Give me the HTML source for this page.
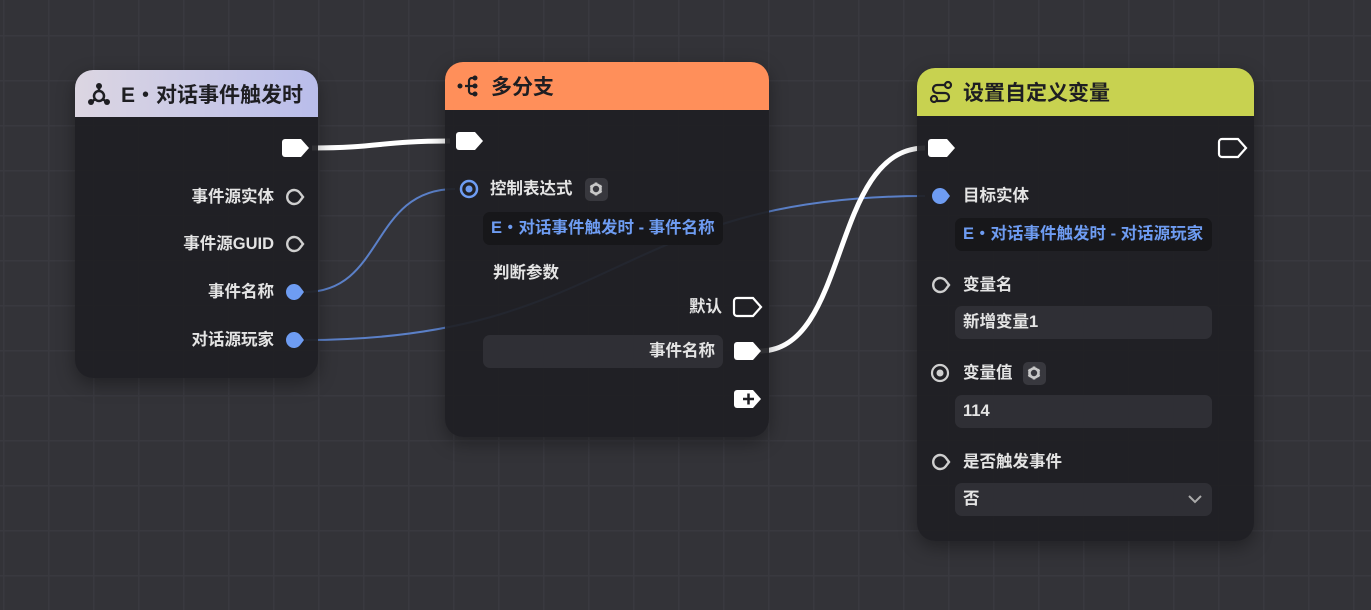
<!DOCTYPE html>
<html><head><meta charset="utf-8"><style>
*{box-sizing:border-box;margin:0;padding:0}
body{width:1371px;height:610px;overflow:hidden;position:relative;font-family:"Liberation Sans","Noto Sans CJK SC",sans-serif;
background-color:#333338;
background-image:linear-gradient(#39393f 1.5px,transparent 1.5px),linear-gradient(90deg,#39393f 1.5px,transparent 1.5px);
background-size:45px 45px;background-position:3px 35px}
.node{position:absolute;background:rgba(31,31,35,0.93);border-radius:18px;box-shadow:0 6px 18px rgba(0,0,0,0.35);overflow:hidden}
.hdr{position:absolute;left:0;top:0;right:0;display:flex;align-items:center;font-size:21px;font-weight:bold;color:#1e1e22}
.t{position:absolute;font-size:16.5px;font-weight:bold;color:#e4e4e4;white-space:nowrap;line-height:20px}
.box{position:absolute;border-radius:7px;font-size:16.5px;font-weight:bold;line-height:20px;padding:6px 8px;white-space:nowrap}
.blue{background:#17171a;color:#6e9cf2}
.inp{background:#2f2f35;color:#e4e4e4}
.gear{position:absolute;width:23px;height:23px;border-radius:5px;background:#38383e}
svg.p{position:absolute;overflow:visible}
</style></head><body>
<svg width="1371" height="610" style="position:absolute;left:0;top:0">
<path d="M312,148 C380,148 380,141 450,141" stroke="#fff" stroke-width="5" fill="none"/>
<path d="M305,292 C385,292 370,189 455,189" stroke="#5b80c8" stroke-width="2" fill="none"/>
<path d="M305,340 C615,340 615,196 925,196" stroke="#5b80c8" stroke-width="2" fill="none"/>
<path d="M760,351 C850,351 830,148 925,148" stroke="#fff" stroke-width="5" fill="none"/>
</svg>

<!-- Node 1 -->
<div class="node" style="left:75px;top:70px;width:243px;height:308px">
 <div class="hdr" style="height:47px;background:linear-gradient(90deg,#dcd6e2,#b9bdea);padding-left:12px">
  <svg width="24" height="24" viewBox="0 0 24 24" style="margin-right:10px"><circle cx="12" cy="4" r="3" fill="#1e1e22"/><circle cx="4" cy="20" r="3" fill="#1e1e22"/><circle cx="20" cy="20" r="3" fill="#1e1e22"/><circle cx="12" cy="14" r="5" fill="none" stroke="#1e1e22" stroke-width="2.5"/><path d="M12 4v5M4 20l4.5-3M20 20l-4.5-3" stroke="#1e1e22" stroke-width="2.5"/></svg>
  E・对话事件触发时</div>
 <div class="t" style="right:44px;top:117px">事件源实体</div>
 <div class="t" style="right:44px;top:164px">事件源GUID</div>
 <div class="t" style="right:44px;top:212px">事件名称</div>
 <div class="t" style="right:44px;top:260px">对话源玩家</div>
</div>
<!-- Node 2 -->
<div class="node" style="left:445px;top:62px;width:324px;height:375px">
 <div class="hdr" style="height:48px;background:#ff8f5a;padding-left:12px">
  <svg width="24" height="24" viewBox="0 0 24 24" style="margin-right:10px"><circle cx="3" cy="12" r="2.5" fill="#1e1e22"/><circle cx="18" cy="4" r="2.5" fill="#1e1e22"/><circle cx="18" cy="12" r="2.5" fill="#1e1e22"/><circle cx="18" cy="20" r="2.5" fill="#1e1e22"/><path d="M18 4h-3a3 3 0 0 0-3 3v10a3 3 0 0 0 3 3h3M8 12h10" stroke="#1e1e22" stroke-width="2.2" fill="none"/></svg>
  多分支</div>
 <div class="t" style="left:45px;top:117px">控制表达式</div>
 <div class="gear" style="left:140px;top:116px"></div>
 <div class="box blue" style="left:38px;top:150px;width:240px;height:33px">E・对话事件触发时 - 事件名称</div>
 <div class="t" style="left:48px;top:201px">判断参数</div>
 <div class="t" style="right:47px;top:235px">默认</div>
 <div class="box inp" style="left:38px;top:273px;width:240px;height:33px;text-align:right">事件名称</div>
</div>
<!-- Node 3 -->
<div class="node" style="left:917px;top:68px;width:337px;height:473px">
 <div class="hdr" style="height:48px;background:#c8d250;padding-left:12px">
  <svg width="24" height="24" viewBox="0 0 24 24" style="margin-right:10px"><circle cx="19" cy="5" r="3" fill="none" stroke="#1e1e22" stroke-width="2.2"/><circle cx="5" cy="19" r="3" fill="none" stroke="#1e1e22" stroke-width="2.2"/><path d="M16 5H8a4 4 0 0 0 0 8h8a4 4 0 0 1 0 8h-8" stroke="#1e1e22" stroke-width="2.2" fill="none"/></svg>
  设置自定义变量</div>
 <div class="t" style="left:46px;top:118px">目标实体</div>
 <div class="box blue" style="left:38px;top:150px;width:257px;height:33px">E・对话事件触发时 - 对话源玩家</div>
 <div class="t" style="left:46px;top:207px">变量名</div>
 <div class="box inp" style="left:38px;top:238px;width:257px;height:33px">新增变量1</div>
 <div class="t" style="left:46px;top:295px">变量值</div>
 <div class="gear" style="left:106px;top:294px"></div>
 <div class="box inp" style="left:38px;top:327px;width:257px;height:33px">114</div>
 <div class="t" style="left:46px;top:384px">是否触发事件</div>
 <div class="box inp" style="left:38px;top:415px;width:257px;height:33px">否</div>
 <svg class="p" style="left:270px;top:426px" width="16" height="10"><path d="M2 2l6 6 6-6" stroke="#aaa" stroke-width="2" fill="none"/></svg>
</div>

<!-- pins overlay -->
<svg width="1371" height="610" style="position:absolute;left:0;top:0">
<defs>
 <path id="ex" d="M-12,-9 h16 l8,9 l-8,9 h-16 a3,3 0 0 1 -3,-3 v-12 a3,3 0 0 1 3,-3z"/>
 <path id="dp" d="M10,0 L6.4,-4.8 A8,8 0 1 0 6.4,4.8 Z"/>
 <path id="dh" d="M9,0 L5.8,-4.2 A7,7 0 1 0 5.8,4.2 Z"/>
 <g id="cog"><circle r="4.5" fill="none" stroke="#c8c8c8" stroke-width="2.6"/><g stroke="#c8c8c8" stroke-width="2.6"><path d="M0,-6.5v2.5M0,6.5v-2.5M-5.6,-3.2l2.2,1.2M5.6,3.2l-2.2,-1.2M-5.6,3.2l2.2,-1.2M5.6,-3.2l-2.2,1.2"/></g></g>
</defs>
<g fill="#fff"><use href="#ex" x="297" y="148"/><use href="#ex" x="471" y="141"/><use href="#ex" x="749" y="351"/><use href="#ex" x="749" y="399"/><use href="#ex" x="943" y="148"/></g>
<g fill="none" stroke="#fff" stroke-width="2.2"><use href="#ex" x="749" y="307"/><use href="#ex" x="1234" y="148"/></g>
<path d="M743,399h11M748.5,393.5v11" stroke="#1f1f23" stroke-width="2.5"/>
<g fill="none" stroke="#cfcfcf" stroke-width="2.4"><use href="#dh" x="294" y="197"/><use href="#dh" x="294" y="244"/><use href="#dh" x="940" y="285"/><use href="#dh" x="940" y="462"/></g>
<g fill="#6e9cf2"><use href="#dp" x="294" y="292"/><use href="#dp" x="294" y="340"/><use href="#dp" x="940" y="196"/></g>
<circle cx="469" cy="189" r="8" fill="none" stroke="#6e9cf2" stroke-width="2.5"/><circle cx="469" cy="189" r="3.5" fill="#6e9cf2"/>
<circle cx="940" cy="373" r="8" fill="none" stroke="#cfcfcf" stroke-width="2.2"/><circle cx="940" cy="373" r="3.5" fill="#cfcfcf"/>
<use href="#cog" x="596" y="189"/><use href="#cog" x="1034" y="373"/>
</svg>
</body></html>
